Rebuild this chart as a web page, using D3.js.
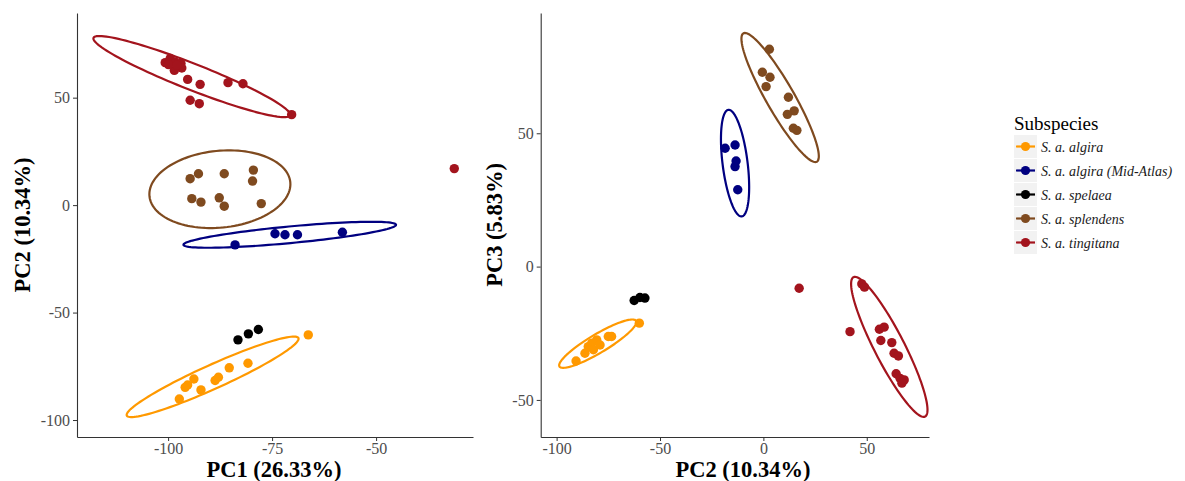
<!DOCTYPE html>
<html>
<head>
<meta charset="utf-8">
<script src="https://cdn.jsdelivr.net/npm/d3@7"></script>
<style>
  body { margin: 0; background: #fff; }
  svg { display: block; font-family: "Liberation Serif", "Times New Roman", serif; }
  .tick text { fill: #4d4d4d; font-size: 16px; }
  .axis-title { font-weight: bold; font-size: 22.5px; fill: #000; }
</style>
</head>
<body>
<svg width="1185" height="481"></svg>
<script>
var subspecies = ["S. a. algira", "S. a. algira (Mid-Atlas)", "S. a. spelaea", "S. a. splendens", "S. a. tingitana"];
var colours = ["#ff9900", "#000080", "#000000", "#7f4a1f", "#a3141d"];

// PC1 vs PC2
var pc12_algira = [[-97.3,-90.2],[-95.9,-84.8],[-95.3,-83.7],[-93.8,-80.9],[-92.1,-86.0],[-88.7,-81.6],[-87.9,-80.1],[-85.3,-75.7],[-80.8,-73.6],[-66.3,-60.4]];
var pc12_midatlas = [[-83.9,-18.5],[-74.3,-13.3],[-71.9,-13.8],[-68.9,-13.8],[-58.1,-12.6]];
var pc12_spelaea = [[-83.2,-62.7],[-80.7,-59.9],[-78.3,-57.9]];
var pc12_splendens = [[-94.7,12.3],[-92.7,14.6],[-86.5,14.6],[-79.5,16.3],[-79.7,11.2],[-94.3,3.0],[-92.1,1.4],[-87.7,3.4],[-86.5,-0.5],[-77.6,0.7]];
var pc12_tingitana = [[-100.7,66.3],[-99.5,68.2],[-98.3,66.6],[-96.9,65.9],[-96.7,63.8],[-98.5,62.7],[-99.9,65.4],[-97.9,65.1],[-95.3,58.5],[-92.3,56.2],[-85.6,57.0],[-82.0,56.5],[-94.7,48.8],[-92.5,47.2],[-70.3,42.1],[-31.2,17.0]];

// PC2 vs PC3
var pc23_algira = [[-90.6,-35.4],[-86.3,-32.5],[-84.7,-30.0],[-83.0,-28.7],[-80.6,-27.5],[-82.2,-31.2],[-79.0,-29.4],[-75.0,-26.2],[-73.4,-26.2],[-60.0,-21.2]];
var pc23_midatlas = [[-18.5,44.4],[-13.7,45.6],[-13.2,39.6],[-13.7,37.5],[-12.4,28.8]];
var pc23_spelaea = [[-62.5,-12.7],[-59.7,-11.6],[-57.3,-11.8]];
var pc23_splendens = [[2.9,81.5],[-0.5,72.9],[3.2,71.0],[1.3,67.5],[12.1,63.5],[14.9,58.4],[11.6,57.1],[14.5,51.9],[16.2,51.1]];
var pc23_tingitana = [[47.6,-6.5],[48.9,-7.7],[41.9,-24.4],[56.1,-23.5],[58.4,-22.7],[56.8,-27.7],[62.1,-28.5],[63.2,-32.5],[65.3,-33.5],[64.2,-40.2],[66.1,-41.9],[68.1,-42.5],[67.0,-43.7],[17.3,-8.1]];

// ellipses: centre x, centre y, half-axis u (x,y), half-axis v (x,y), in data units; null = none drawn
var ell12 = [[-89.3,-79.9,20.63,18.03,1.18,-5.09], [-70.75,-13.8,25.55,4.66,0.19,-3.85], null,
             [-87.55,7.4,16.95,2.33,0,17.93], [-94.3,59.8,23.63,-18.02,-1.15,-5.64]];
var ell23 = [[-80.1,-28.9,18.53,8.55,2.30,-3.0], [-13.7,38.8,-3.24,19.99,6.0,0.585], null,
             [8.1,63.4,-17.76,24.07,5.90,2.62], [60.9,-30.1,-17.32,26.13,6.43,2.59]];

var xTicks12 = [-100, -75, -50], yTicks12 = [-100, -50, 0, 50];
var xTicks23 = [-100, -50, 0, 50], yTicks23 = [-50, 0, 50];

var svg = d3.select("svg");

function panel(opts) {
	var x = d3.scaleLinear().domain(opts.xdom).range(opts.xr);
	var y = d3.scaleLinear().domain(opts.ydom).range(opts.yr);
	var g = svg.append("g");

	var fmt = function(d) { return String(d); };
	var xa = g.append("g")
		.attr("transform", "translate(0," + opts.yr[0] + ")")
		.call(d3.axisBottom(x).tickValues(opts.xt).tickSize(4).tickSizeOuter(0).tickPadding(2).tickFormat(fmt));
	var ya = g.append("g")
		.attr("transform", "translate(" + opts.xr[0] + ",0)")
		.call(d3.axisLeft(y).tickValues(opts.yt).tickSize(4).tickSizeOuter(0).tickPadding(3).tickFormat(fmt));
	[xa, ya].forEach(function(a) {
		a.select(".domain").attr("stroke", "#333").attr("stroke-width", 1.1);
		a.selectAll(".tick line").attr("stroke", "#333");
		a.attr("font-family", null).attr("font-size", null);
	});

	var line = d3.line().x(function(p) { return x(p[0]); }).y(function(p) { return y(p[1]); }).curve(d3.curveLinearClosed);

	opts.points.forEach(function(pts, i) {
		g.selectAll(null)
			.data(pts)
			.enter()
			.append("circle")
			.attr("cx", function(d) { return x(d[0]); })
			.attr("cy", function(d) { return y(d[1]); })
			.attr("r", 4.7)
			.attr("fill", colours[i]);
	});
	opts.ellipses.forEach(function(e, i) {
		if (!e) return;
		var pts = d3.range(0, 2 * Math.PI, Math.PI / 60).map(function(t) {
			return [e[0] + e[2] * Math.cos(t) + e[4] * Math.sin(t), e[1] + e[3] * Math.cos(t) + e[5] * Math.sin(t)];
		});
		g.append("path")
			.attr("d", line(pts))
			.attr("fill", "none")
			.attr("stroke", colours[i])
			.attr("stroke-width", 2.2);
	});

	g.append("text")
		.attr("class", "axis-title")
		.attr("x", opts.xTitleX)
		.attr("y", 477)
		.attr("text-anchor", "middle")
		.text(opts.xTitle);
	g.append("text")
		.attr("class", "axis-title")
		.attr("transform", "translate(" + opts.yTitleX + "," + ((opts.yr[0] + opts.yr[1]) / 2) + ") rotate(-90)")
		.attr("text-anchor", "middle")
		.text(opts.yTitle);
}

panel({
	xdom: [-121.9, -26.7], xr: [77, 473],
	ydom: [-107.9, 89.4], yr: [437, 13],
	xt: xTicks12, yt: yTicks12,
	points: [pc12_algira, pc12_midatlas, pc12_spelaea, pc12_splendens, pc12_tingitana],
	ellipses: ell12,
	xTitle: "PC1 (26.33%)", xTitleX: 274,
	yTitle: "PC2 (10.34%)", yTitleX: 30
});

panel({
	xdom: [-107.7, 80.1], xr: [540.7, 929],
	ydom: [-63.9, 95.1], yr: [437, 13],
	xt: xTicks23, yt: yTicks23,
	points: [pc23_algira, pc23_midatlas, pc23_spelaea, pc23_splendens, pc23_tingitana],
	ellipses: ell23,
	xTitle: "PC2 (10.34%)", xTitleX: 743,
	yTitle: "PC3 (5.83%)", yTitleX: 502
});

// legend
var legend = svg.append("g").attr("transform", "translate(1014,0)");
legend.append("text")
	.attr("x", 0)
	.attr("y", 130)
	.attr("font-size", 19)
	.text("Subspecies");
var key = legend.selectAll(".key")
	.data(subspecies)
	.enter()
	.append("g")
	.attr("class", "key")
	.attr("transform", function(d, i) { return "translate(0," + (135 + i * 24) + ")"; });
key.append("rect").attr("width", 23).attr("height", 23).attr("fill", "#f2f2f2");
key.append("line")
	.attr("x1", 2).attr("x2", 21).attr("y1", 11.5).attr("y2", 11.5)
	.attr("stroke", function(d, i) { return colours[i]; })
	.attr("stroke-width", 2.2);
key.append("circle")
	.attr("cx", 11.5).attr("cy", 11.5).attr("r", 4.6)
	.attr("fill", function(d, i) { return colours[i]; });
key.append("text")
	.attr("x", 27)
	.attr("y", 16.5)
	.attr("font-size", 14)
	.attr("font-style", "italic")
	.attr("fill", "#1a1a1a")
	.text(function(d) { return d; });
</script>
</body>
</html>
